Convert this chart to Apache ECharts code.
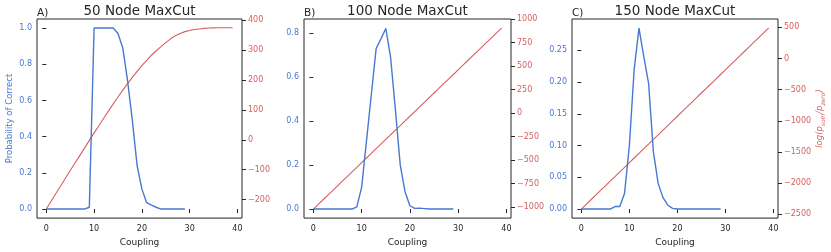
<!DOCTYPE html>
<html>
<head>
<meta charset="utf-8">
<script src="https://cdn.jsdelivr.net/npm/echarts@6/dist/echarts.min.js"></script>
<style>html,body{margin:0;padding:0;background:#fff}#c{width:831px;height:252px}</style>
</head>
<body>
<div id="c"></div>
<script>
// ---- data ----
var couplingProb = [0,1,2,3,4,5,6,7,8,9,10,11,12,13,14,15,16,17,18,19,20,21,22,23,24,25,26,27,28,29];
var couplingLog = [0,1,2,3,4,5,6,7,8,9,10,11,12,13,14,15,16,17,18,19,20,21,22,23,24,25,26,27,28,29,30,31,32,33,34,35,36,37,38,39];

var probA = [0,0,0,0,0,0,0,0,0,0.01,1.0,1.0,1.0,1.0,1.0,0.97,0.89,0.71,0.49,0.24,0.11,0.035,0.022,0.01,0,0,0,0,0,0];
var probB = [0,0,0,0,0,0,0,0,0,0.01,0.1,0.31,0.52,0.73,0.775,0.822,0.69,0.45,0.2,0.078,0.015,0.003,0.004,0.002,0,0,0,0,0,0];
var probC = [0,0,0,0,0,0,0,0.004,0.004,0.025,0.1,0.22,0.285,0.24,0.198,0.09,0.04,0.018,0.006,0.001,0,0,0,0,0,0,0,0,0,0];

var logA = [-232,-206,-180,-155,-129,-103,-78,-53,-28,-2,23,47,72,96,120,143,166,188,209,229,248,266,283,298,312,325,338,348,356,362,366,369,371,373,374,374.5,375,375,375,375];
var logB = [-1021,-972,-922,-873,-824,-774,-725,-676,-626,-577,-527,-478,-429,-379,-330,-281,-231,-182,-133,-83,-34,16,65,114,164,213,262,312,361,410,460,509,559,608,657,707,756,805,855,904];
var logC = [-2415,-2341,-2266,-2192,-2117,-2043,-1968,-1894,-1819,-1745,-1671,-1596,-1522,-1447,-1373,-1298,-1224,-1149,-1075,-1000,-926,-851,-777,-702,-628,-553,-479,-405,-330,-256,-181,-107,-32,42,117,191,266,340,415,489];

var xTicks = [0,10,20,30,40];
var leftTicksA = [0,0.2,0.4,0.6,0.8,1.0];
var leftTicksB = [0,0.2,0.4,0.6,0.8];
var leftTicksC = [0,0.05,0.10,0.15,0.20,0.25];
var rightTicksA = [-200,-100,0,100,200,300,400];
var rightTicksB = [-1000,-750,-500,-250,0,250,500,750,1000];
var rightTicksC = [-2500,-2000,-1500,-1000,-500,0,500];

var titles = ['50 Node MaxCut','100 Node MaxCut','150 Node MaxCut'];
var letters = ['A)','B)','C)'];

// ---- style ----
var BLUE = '#4878d0', RED = '#d65f5f', DARK = '#262626';
var FONT = 'DejaVu Sans';
var grids = [
  {left:37, top:19, width:205, height:200},
  {left:304, top:19, width:207, height:200},
  {left:572, top:19, width:206, height:200}
];
var leftRanges = [[-0.05,1.05],[-0.0412,0.865],[-0.01425,0.29925]];
var rightRanges = [[-262.3,404.3],[-1117.25,1000.25],[-2560.2,634.2]];
var leftTicks = [leftTicksA,leftTicksB,leftTicksC];
var rightTicks = [rightTicksA,rightTicksB,rightTicksC];
var leftDec = [1,1,2];
var probs = [probA,probB,probC];
var logs = [logA,logB,logC];

function pairs(xs, ys){ return ys.map(function(v,i){ return [xs[i], v]; }); }
function minus(v){ return v < 0 ? '\u2212' + Math.abs(v) : String(v); }

var option = {
  animation:false,
  backgroundColor:'#fff',
  grid: grids.map(function(g){ return {left:g.left, top:g.top, width:g.width, height:g.height, show:true, borderColor:DARK, borderWidth:1, backgroundColor:'transparent'}; }),
  xAxis: [], yAxis: [], series: [],
  graphic: []
};

for (var i=0;i<3;i++){
  option.xAxis.push({
    type:'value', gridIndex:i, min:-1.95, max:40.95,
    splitLine:{show:false}, axisLine:{show:false},
    axisTick:{show:true, length:4, customValues:xTicks, lineStyle:{color:DARK, width:1}},
    axisLabel:{customValues:xTicks, color:DARK, fontFamily:FONT, fontSize:8, margin:7},
    name:'Coupling', nameLocation:'middle', nameGap:19,
    nameTextStyle:{color:DARK, fontFamily:FONT, fontSize:9}
  });
  (function(d){
    option.yAxis.push({
      type:'value', gridIndex:i, position:'left', min:leftRanges[i][0], max:leftRanges[i][1],
      splitLine:{show:false}, axisLine:{show:false},
      axisTick:{show:true, length:4, customValues:leftTicks[i], lineStyle:{color:DARK, width:1}},
      axisLabel:{customValues:leftTicks[i], color:BLUE, fontFamily:FONT, fontSize:8, margin:5,
        formatter:function(v){ return v.toFixed(d); }},
      name: i===0 ? 'Probability of Correct' : '', nameLocation:'middle', nameGap:23, nameRotate:90,
      nameTextStyle:{color:BLUE, fontFamily:FONT, fontSize:8.5}
    });
  })(leftDec[i]);
  option.yAxis.push({
    type:'value', gridIndex:i, position:'right', min:rightRanges[i][0], max:rightRanges[i][1],
    splitLine:{show:false}, axisLine:{show:false},
    axisTick:{show:true, length:4, customValues:rightTicks[i], lineStyle:{color:DARK, width:1}},
    axisLabel:{customValues:rightTicks[i], color:RED, fontFamily:FONT, fontSize:8, margin:6,
      formatter:minus},
    name: i===2 ? '{m|log(p}{s|soln}{m|/p}{s|zero}{m|)}' : '', nameLocation:'middle', nameGap:36, nameRotate:90,
    nameTextStyle:{color:RED, fontFamily:FONT, fontSize:8.5, fontStyle:'italic',
      rich:{m:{color:RED, fontFamily:FONT, fontSize:8.5, fontStyle:'italic', lineHeight:12, verticalAlign:'middle'},
            s:{color:RED, fontFamily:FONT, fontSize:6, fontStyle:'italic', lineHeight:12, verticalAlign:'bottom'}}}
  });
  option.series.push({
    type:'line', xAxisIndex:i, yAxisIndex:2*i, data:pairs(couplingProb, probs[i]),
    symbol:'none', lineStyle:{color:BLUE, width:1.4}, itemStyle:{color:BLUE}, z:3
  });
  option.series.push({
    type:'line', xAxisIndex:i, yAxisIndex:2*i+1, data:pairs(couplingLog, logs[i]),
    symbol:'none', lineStyle:{color:RED, width:1.1}, itemStyle:{color:RED}, z:2
  });
  var g = grids[i];
  option.graphic.push({
    type:'text', x:g.left + g.width/2, y:11.5,
    style:{text:titles[i], fill:DARK, font:'13.5px "DejaVu Sans"', textAlign:'center', textVerticalAlign:'middle'}
  });
  option.graphic.push({
    type:'text', x:g.left, y:13.5,
    style:{text:letters[i], fill:DARK, font:'10.5px "DejaVu Sans"', textAlign:'left', textVerticalAlign:'middle'}
  });
}

var chart = echarts.init(document.getElementById('c'), null, {renderer:'canvas'});
chart.setOption(option);
</script>
</body>
</html>
